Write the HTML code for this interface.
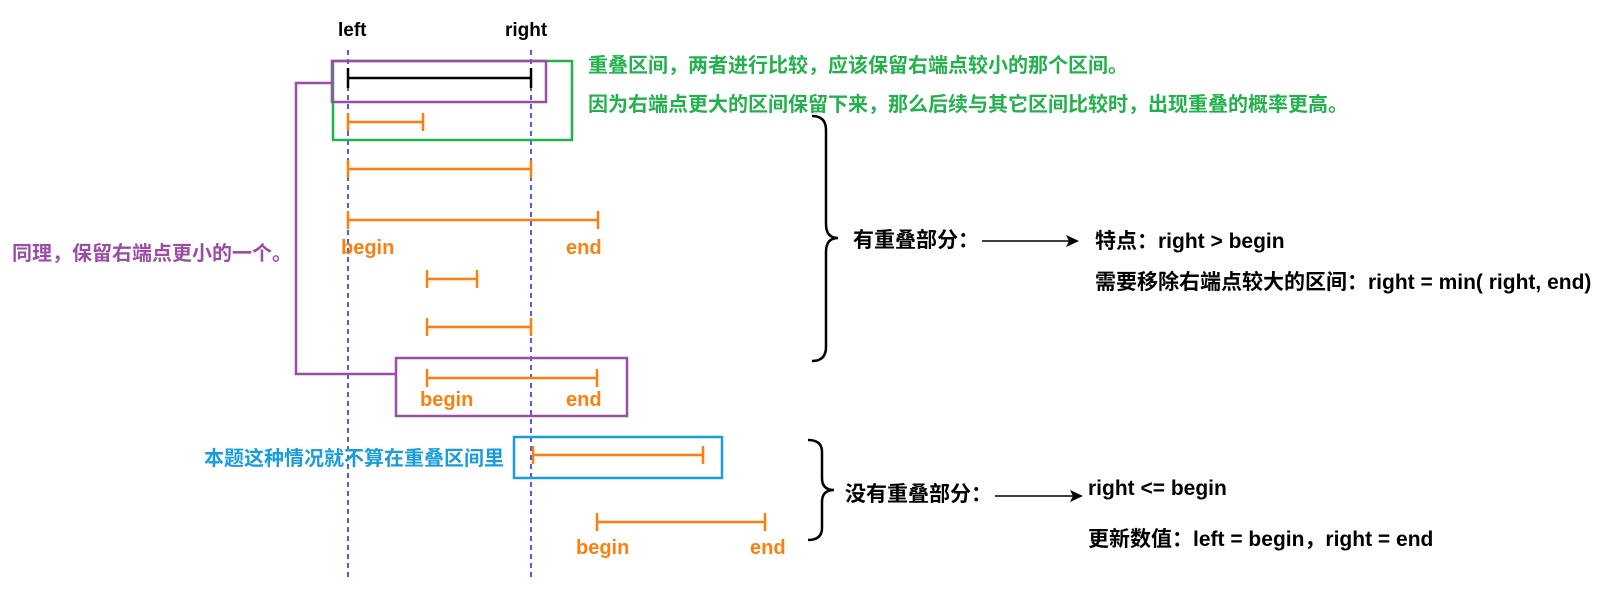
<!DOCTYPE html>
<html><head><meta charset="utf-8"><style>
body{margin:0;background:#fff;width:1615px;height:604px;overflow:hidden;position:relative;font-family:"Liberation Sans","Noto Sans CJK SC",sans-serif;font-weight:bold}
.t{position:absolute;white-space:nowrap;font-size:21px;line-height:24px;transform:translateY(-50%)}
</style></head><body>
<svg width="1615" height="604" style="position:absolute;left:0;top:0" fill="none">
<g stroke="#1f1fff" stroke-width="1.5" stroke-dasharray="5,4"><line x1="348" y1="50" x2="348" y2="580"/><line x1="531" y1="50" x2="531" y2="580"/></g>
<rect x="333" y="61" width="239" height="79" stroke="#22b14c" stroke-width="2.5"/>
<rect x="332" y="61" width="214" height="41" stroke="#9b4ea6" stroke-width="2.5"/>
<polyline points="332,83 296,83 296,374 396,374" stroke="#9b4ea6" stroke-width="2.5"/>
<rect x="396" y="358" width="231" height="58" stroke="#9b4ea6" stroke-width="2.5"/>
<rect x="514" y="437" width="208" height="41" stroke="#1a9ddb" stroke-width="2.5"/>
<g stroke="#000" stroke-width="2.5"><line x1="348" y1="78" x2="531" y2="78"/><line x1="348" y1="68" x2="348" y2="88"/><line x1="531" y1="68" x2="531" y2="88"/></g>
<g stroke="#ff7f0e" stroke-width="2.5">
<path d="M348 122H423M348 113V131M423 113V131"/>
<path d="M348 169H531M348 160V178M531 160V178"/>
<path d="M348 220H598M348 211V229M598 211V229"/>
<path d="M427 279H477M427 270V288M477 270V288"/>
<path d="M427 327H531M427 318V336M531 318V336"/>
<path d="M427 378H597M427 369V387M597 369V387"/>
<path d="M533 455H703M533 446V464M703 446V464"/>
<path d="M597 522H765M597 513V531M765 513V531"/>
</g>
<g stroke="#000" stroke-width="2.5">
<path d="M812 116Q826 116 826 130V224Q826 238 838 238Q826 238 826 252V347Q826 361 812 361"/>
<path d="M808 440Q822 440 822 452V478Q822 490 834 490Q822 490 822 502V528Q822 540 808 540"/>
<line x1="982" y1="241" x2="1072" y2="241" stroke-width="1.5"/>
<line x1="995" y1="496" x2="1076" y2="496" stroke-width="1.5"/>
</g>
<path d="M1079 241L1066 235L1069 241L1066 247Z" fill="#000"/>
<path d="M1083 496L1070 490L1073 496L1070 502Z" fill="#000"/>
</svg>
<div class="t" style="left:338px;top:31px;font-size:19px">left</div>
<div class="t" style="left:505px;top:31px;font-size:19px">right</div>
<div class="t" style="left:588px;top:66px;color:#22b14c;font-size:20px">重叠区间，两者进行比较，应该保留右端点较小的那个区间。</div>
<div class="t" style="left:588px;top:105px;color:#22b14c;font-size:20px">因为右端点更大的区间保留下来，那么后续与其它区间比较时，出现重叠的概率更高。</div>
<div class="t" style="left:12px;top:254px;color:#9b4ea6;font-size:20px">同理，保留右端点更小的一个。</div>
<div class="t" style="left:341px;top:248px;color:#ff7f0e;font-size:20px">begin</div>
<div class="t" style="left:566px;top:248px;color:#ff7f0e;font-size:20px">end</div>
<div class="t" style="left:420px;top:400px;color:#ff7f0e;font-size:20px">begin</div>
<div class="t" style="left:566px;top:400px;color:#ff7f0e;font-size:20px">end</div>
<div class="t" style="left:204px;top:459px;color:#1a9ddb;font-size:20px">本题这种情况就不算在重叠区间里</div>
<div class="t" style="left:576px;top:548px;color:#ff7f0e;font-size:20px">begin</div>
<div class="t" style="left:750px;top:548px;color:#ff7f0e;font-size:20px">end</div>
<div class="t" style="left:853px;top:241px">有重叠部分：</div>
<div class="t" style="left:1095px;top:242px">特点：right &gt; begin</div>
<div class="t" style="left:1095px;top:283px">需要移除右端点较大的区间：right = min( right, end)</div>
<div class="t" style="left:845px;top:495px">没有重叠部分：</div>
<div class="t" style="left:1088px;top:489px">right &lt;= begin</div>
<div class="t" style="left:1088px;top:540px">更新数值：left = begin，right = end</div>
</body></html>
